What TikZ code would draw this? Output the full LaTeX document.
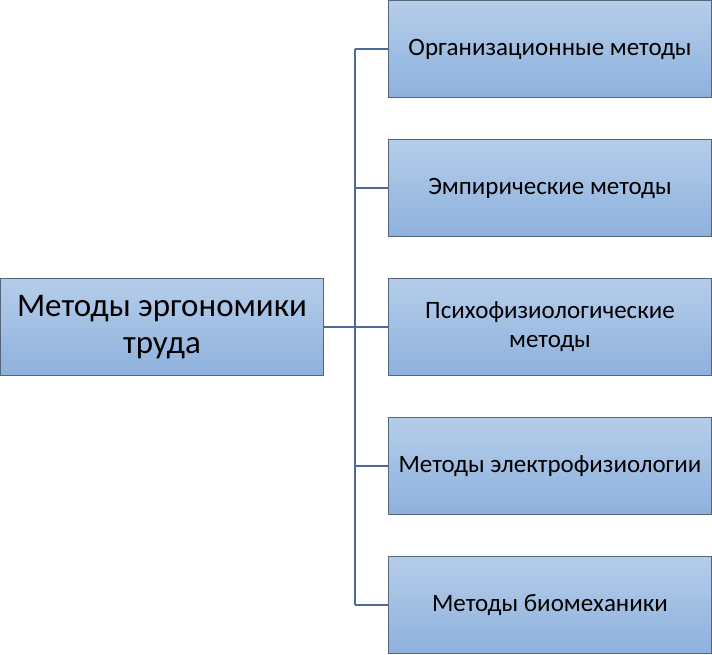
\documentclass[tikz,border=0pt]{standalone}
\usepackage{fontspec}
\setmainfont{Carlito}
\definecolor{boxtop}{HTML}{B5CDEA}
\definecolor{boxbot}{HTML}{8EB1DD}
\definecolor{boxline}{HTML}{56667A}
\definecolor{linkline}{HTML}{4A6C9C}
\begin{document}
\begin{tikzpicture}[x=1pt, y=-1pt,
    box/.style={draw=boxline, line width=0.9pt, top color=boxtop, bottom color=boxbot,
      minimum width=323pt, minimum height=97pt, align=center, inner sep=2pt},
    link/.style={draw=linkline, line width=1.2pt}]
  \useasboundingbox (0,0) rectangle (712,655);
  \node[box, font=\fontsize{33}{37}\selectfont] (main) at (162,327) {Методы эргономики\\труда};
  \node[box, font=\fontsize{25}{29}\selectfont] (m1) at (550,49) {Организационные методы};
  \node[box, font=\fontsize{25}{29}\selectfont] (m2) at (550,188) {Эмпирические методы};
  \node[box, font=\fontsize{25}{29}\selectfont] (m3) at (550,327) {Психофизиологические\\методы};
  \node[box, font=\fontsize{25}{29}\selectfont] (m4) at (550,466) {Методы электрофизиологии};
  \node[box, font=\fontsize{25}{29}\selectfont] (m5) at (550,605) {Методы биомеханики};
  \coordinate (bus) at (355,327);
  \draw[link] (main.east) -- (bus);
  \draw[link] (bus |- m1.west) -- (bus |- m5.west);
  \foreach \m in {m1,m2,m3,m4,m5}
    \draw[link] (bus |- \m.west) -- (\m.west);
\end{tikzpicture}
\end{document}
